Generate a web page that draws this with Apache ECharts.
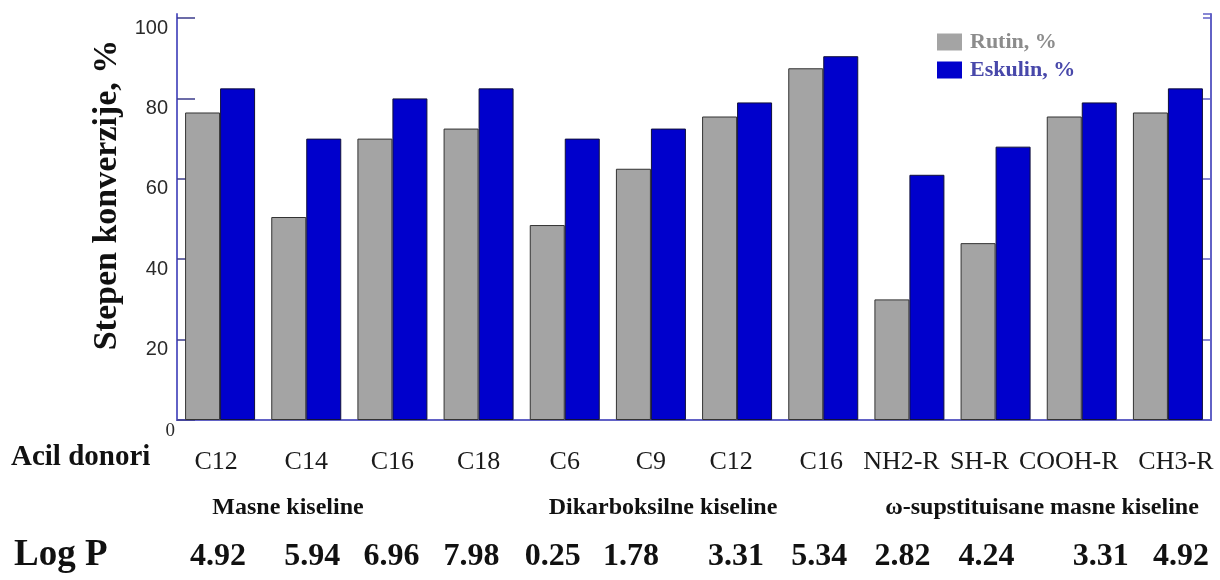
<!DOCTYPE html>
<html>
<head>
<meta charset="utf-8">
<script src="https://cdn.jsdelivr.net/npm/echarts@6/dist/echarts.min.js"></script>
<style>
  html, body { margin: 0; padding: 0; background: #fff; }
  #chart { width: 1220px; height: 580px; }
</style>
</head>
<body>
<div id="chart"></div>
<script>
// acil donori (kategorije)
const donori = ['C12', 'C14', 'C16', 'C18', 'C6', 'C9', 'C12', 'C16', 'NH2-R', 'SH-R', 'COOH-R', 'CH3-R'];
// stepen konverzije, %
const rutin = [76.5, 50.5, 70, 72.5, 48.5, 62.5, 75.5, 87.5, 30, 44, 75.5, 76.5];
const eskulin = [82.5, 70, 80, 82.5, 70, 72.5, 79, 90.5, 61, 68, 79, 82.5];
// Log P vrednosti
const logP = ['4.92', '5.94', '6.96', '7.98', '0.25', '1.78', '3.31', '5.34', '2.82', '4.24', '3.31', '4.92'];
// grupe
const grupe = ['Masne kiseline', 'Dikarboksilne kiseline', '\u03c9-supstituisane masne kiseline'];

const frame = '#6262c6';
const serif = 'Liberation Serif';

// pomeranje natpisa (px) da prate original
function shiftedLabels(texts, shifts, style) {
  let rich = {};
  shifts.forEach((s, i) => {
    rich['s' + i] = Object.assign({}, style, {
      padding: s >= 0 ? [0, 0, 0, 2 * s] : [0, -2 * s, 0, 0]
    });
  });
  return {
    formatter: (v, i) => '{s' + i + '|' + texts[i] + '}',
    rich: rich
  };
}

const donorLabels = shiftedLabels(donori, [-4, 0, 0, 0, 0, 0, -6, -2, -8, -16, -13, 8],
  { fontFamily: serif, fontSize: 26, color: '#1a1a1a' });
const logPLabels = shiftedLabels(logP, [-2, 6, -1, -7, -12, -20, -1, -4, -7, -9, 19, 13],
  { fontFamily: serif, fontWeight: 'bold', fontSize: 32, color: '#111' });

let myChart = echarts.init(document.getElementById('chart'));

let option = {
  backgroundColor: '#fff',
  animation: false,
  grid: {
    left: 177,
    right: 9,
    top: 14,
    bottom: 160,
    containLabel: false,
    outerBoundsMode: 'none'
  },
  legend: {
    orient: 'vertical',
    left: 932,
    top: 26,
    icon: 'rect',
    itemWidth: 25,
    itemHeight: 17,
    itemGap: 6,
    itemStyle: { borderWidth: 0 },
    textStyle: {
      fontFamily: serif,
      fontWeight: 'bold',
      fontSize: 22,
      padding: [0, 0, 0, 3]
    },
    data: [
      { name: 'Rutin, %', textStyle: { color: '#8c8c8c' } },
      { name: 'Eskulin, %', textStyle: { color: '#4848aa' } }
    ]
  },
  xAxis: [
    {
      type: 'category',
      data: donori,
      position: 'bottom',
      axisLine: { lineStyle: { color: frame, width: 2 } },
      axisTick: { inside: true, length: 13, lineStyle: { color: frame, width: 1.5 } },
      axisLabel: {
        interval: 0,
        margin: 29,
        formatter: donorLabels.formatter,
        rich: donorLabels.rich
      }
    },
    {
      type: 'category',
      data: donori,
      position: 'top',
      axisLine: { lineStyle: { color: frame, width: 2 } },
      axisTick: { inside: true, length: 13, lineStyle: { color: frame, width: 1.5 } },
      axisLabel: { show: false }
    },
    {
      // red za Log P
      type: 'category',
      data: donori,
      position: 'bottom',
      gridIndex: 0,
      axisLine: { show: false },
      axisTick: { show: false },
      axisLabel: {
        interval: 0,
        margin: 121,
        formatter: logPLabels.formatter,
        rich: logPLabels.rich
      }
    }
  ],
  yAxis: [
    {
      type: 'value',
      min: 0,
      max: 101,
      interval: 20,
      name: 'Stepen konverzije, %',
      nameLocation: 'middle',
      nameGap: 36,
      nameTextStyle: {
        fontFamily: serif,
        fontWeight: 'bold',
        fontSize: 34,
        color: '#111',
        padding: [0, 0, 0, 44]
      },
      splitLine: { show: false },
      axisLine: { show: true, lineStyle: { color: frame, width: 2 } },
      axisTick: { show: true, inside: true, length: 18, lineStyle: { color: '#3c3c8c', width: 1.5 } },
      axisLabel: {
        showMaxLabel: false,
        margin: 2,
        verticalAlign: 'top',
        formatter: v => v === 0 ? '{z|0}' : '{n|' + v + '}',
        rich: {
          n: { fontFamily: 'Liberation Sans', fontSize: 20, color: '#2a2a2a', padding: [0, 7, 0, 0] },
          z: { fontFamily: serif, fontSize: 19, color: '#2a2a2a', padding: [2, 0, 0, 0] }
        }
      }
    },
    {
      type: 'value',
      min: 0,
      max: 101,
      interval: 20,
      position: 'right',
      splitLine: { show: false },
      axisLine: { show: true, lineStyle: { color: frame, width: 2 } },
      axisTick: { show: true, inside: true, length: 8, lineStyle: { color: frame, width: 1.5 } },
      axisLabel: { show: false }
    }
  ],
  series: [
    {
      name: 'Rutin, %',
      type: 'bar',
      barWidth: 35,
      barGap: '0%',
      itemStyle: { color: '#a4a4a4', borderColor: '#333', borderWidth: 1 },
      data: rutin
    },
    {
      name: 'Eskulin, %',
      type: 'bar',
      barWidth: 35,
      itemStyle: { color: '#0000cc', borderColor: '#10103a', borderWidth: 1 },
      data: eskulin
    }
  ],
  graphic: [
    {
      type: 'text', left: 11, top: 443,
      style: { text: 'Acil donori', font: 'bold 29px "Liberation Serif"', fill: '#111' }
    },
    {
      type: 'text', x: 288, y: 508,
      style: { text: grupe[0], font: 'bold 24px "Liberation Serif"', fill: '#111', align: 'center', verticalAlign: 'middle' }
    },
    {
      type: 'text', x: 663, y: 508,
      style: { text: grupe[1], font: 'bold 24px "Liberation Serif"', fill: '#111', align: 'center', verticalAlign: 'middle' }
    },
    {
      type: 'text', x: 1042, y: 508,
      style: { text: grupe[2], font: 'bold 24px "Liberation Serif"', fill: '#111', align: 'center', verticalAlign: 'middle' }
    },
    {
      type: 'text', left: 14, top: 537,
      style: { text: 'Log P', font: 'bold 37px "Liberation Serif"', fill: '#111' }
    }
  ]
};

myChart.setOption(option);
</script>
</body>
</html>
